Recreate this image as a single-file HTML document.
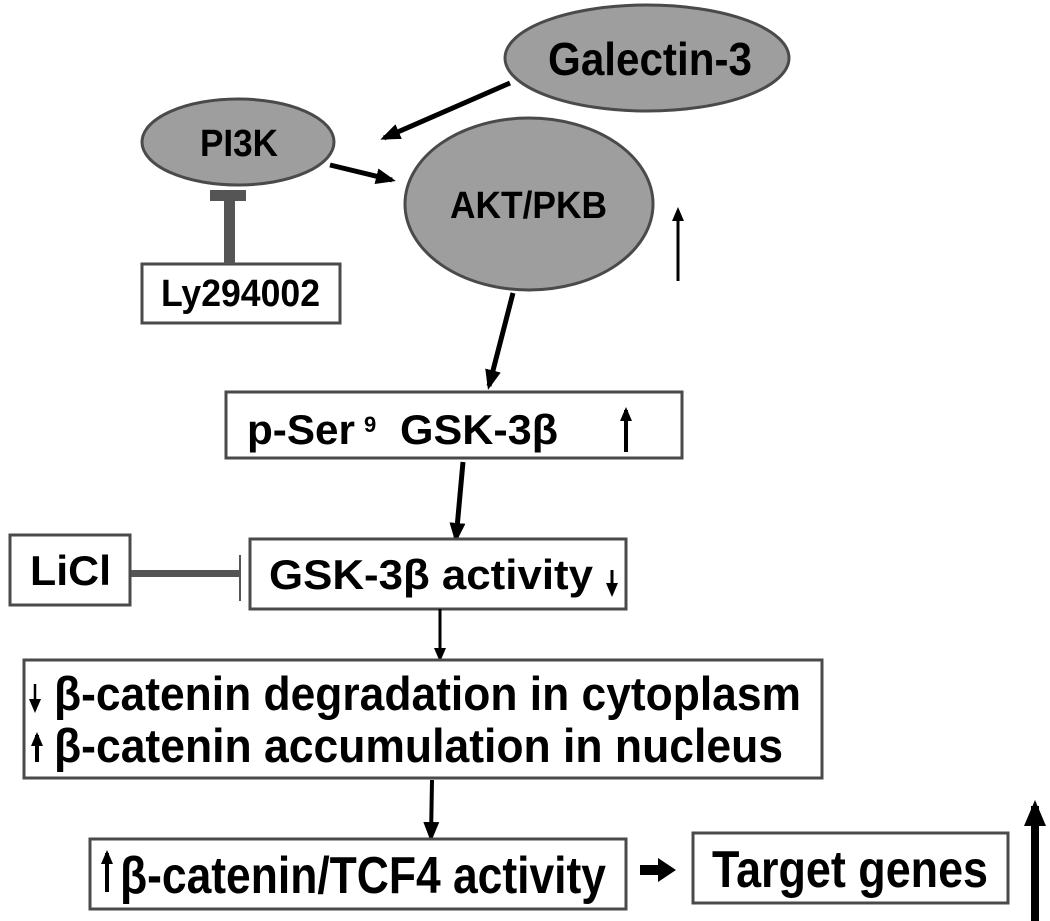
<!DOCTYPE html>
<html><head><meta charset="utf-8"><style>
html,body{margin:0;padding:0;background:#fff;}
svg{display:block;}
text{font-family:"Liberation Sans",Arial,sans-serif;font-weight:bold;fill:#000;}
</style></head><body>
<svg width="1050" height="921" viewBox="0 0 1050 921" xmlns="http://www.w3.org/2000/svg">
<defs>
<marker id="ah" markerWidth="20" markerHeight="16" refX="16" refY="8" orient="auto" markerUnits="userSpaceOnUse">
<path d="M0,0 L20,8 L0,16 z" fill="#000"/></marker>
<marker id="ah2" markerWidth="14" markerHeight="12" refX="11" refY="6" orient="auto" markerUnits="userSpaceOnUse">
<path d="M0,0 L14,6 L0,12 z" fill="#000"/></marker>
<marker id="ah3" markerWidth="26" markerHeight="22" refX="20" refY="11" orient="auto" markerUnits="userSpaceOnUse">
<path d="M0,0 L26,11 L0,22 z" fill="#000"/></marker>
</defs>
<ellipse cx="647" cy="58" rx="142" ry="53" fill="#9e9e9e" stroke="#4a4a4a" stroke-width="3"/>
<text x="548" y="75" font-size="46" textLength="204" lengthAdjust="spacingAndGlyphs">Galectin-3</text>
<ellipse cx="238" cy="142" rx="96" ry="43" fill="#9e9e9e" stroke="#4a4a4a" stroke-width="3"/>
<text x="200" y="156" font-size="38" textLength="78" lengthAdjust="spacingAndGlyphs">PI3K</text>
<ellipse cx="529" cy="204" rx="124" ry="86" fill="#9e9e9e" stroke="#4a4a4a" stroke-width="3"/>
<text x="450" y="218" font-size="38" textLength="157" lengthAdjust="spacingAndGlyphs">AKT/PKB</text>
<rect x="142" y="264" width="198" height="59" fill="#fff" stroke="#4a4a4a" stroke-width="3"/>
<text x="161" y="306" font-size="38" textLength="159" lengthAdjust="spacingAndGlyphs">Ly294002</text>
<rect x="224" y="198" width="11" height="66" fill="#555"/>
<rect x="210" y="190" width="36" height="11" fill="#555"/>
<line x1="510" y1="83" x2="384" y2="138" stroke="#000" stroke-width="5" marker-end="url(#ah)"/>
<line x1="330" y1="165" x2="392" y2="180" stroke="#000" stroke-width="5" marker-end="url(#ah)"/>
<line x1="678" y1="281" x2="678" y2="210" stroke="#000" stroke-width="3" marker-end="url(#ah2)"/>
<line x1="513" y1="293" x2="489" y2="386" stroke="#000" stroke-width="5" marker-end="url(#ah)"/>
<rect x="226" y="392" width="456" height="66" fill="#fff" stroke="#4a4a4a" stroke-width="3"/>
<text x="247" y="444" font-size="42" textLength="108" lengthAdjust="spacingAndGlyphs">p-Ser</text>
<text x="364" y="432" font-size="22">9</text>
<text x="400" y="444" font-size="42" textLength="158" lengthAdjust="spacingAndGlyphs">GSK-3β</text>
<line x1="626" y1="452" x2="626" y2="410" stroke="#000" stroke-width="4" marker-end="url(#ah2)"/>
<line x1="463" y1="462" x2="456" y2="539" stroke="#000" stroke-width="5" marker-end="url(#ah)"/>
<rect x="250" y="539" width="376" height="70" fill="#fff" stroke="#4a4a4a" stroke-width="3"/>
<text x="269" y="589" font-size="42" textLength="324" lengthAdjust="spacingAndGlyphs">GSK-3β activity</text>
<line x1="612" y1="570" x2="612" y2="594" stroke="#000" stroke-width="3" marker-end="url(#ah2)"/>
<rect x="10" y="535" width="120" height="70" fill="#fff" stroke="#4a4a4a" stroke-width="3"/>
<text x="30" y="585" font-size="42" textLength="81" lengthAdjust="spacingAndGlyphs">LiCl</text>
<rect x="131" y="570" width="109" height="7" fill="#555"/>
<rect x="239" y="555" width="2" height="46" fill="#555"/>
<line x1="440" y1="609" x2="440" y2="659" stroke="#000" stroke-width="3" marker-end="url(#ah2)"/>
<rect x="24" y="660" width="798" height="118" fill="#fff" stroke="#4a4a4a" stroke-width="3"/>
<line x1="35" y1="684" x2="35" y2="710" stroke="#000" stroke-width="2.5" marker-end="url(#ah2)"/>
<text x="54" y="710" font-size="47" textLength="747" lengthAdjust="spacingAndGlyphs">β-catenin degradation in cytoplasm</text>
<line x1="37" y1="762" x2="37" y2="735" stroke="#000" stroke-width="4" marker-end="url(#ah2)"/>
<text x="54" y="762" font-size="47" textLength="729" lengthAdjust="spacingAndGlyphs">β-catenin accumulation in nucleus</text>
<line x1="432" y1="780" x2="431" y2="838" stroke="#000" stroke-width="4" marker-end="url(#ah)"/>
<rect x="90" y="839" width="536" height="70" fill="#fff" stroke="#4a4a4a" stroke-width="3"/>
<line x1="107" y1="892" x2="107" y2="853" stroke="#000" stroke-width="4" marker-end="url(#ah2)"/>
<text x="120" y="893" font-size="52" textLength="486" lengthAdjust="spacingAndGlyphs">β-catenin/TCF4 activity</text>
<rect x="640" y="865" width="20" height="10" fill="#000"/>
<path d="M658,858 L676,870 L658,882 z" fill="#000"/>
<rect x="693" y="833" width="315" height="70" fill="#fff" stroke="#4a4a4a" stroke-width="3"/>
<text x="712" y="887" font-size="52" textLength="276" lengthAdjust="spacingAndGlyphs">Target genes</text>
<line x1="1035" y1="921" x2="1035" y2="806" stroke="#000" stroke-width="8" marker-end="url(#ah3)"/>
</svg>
</body></html>
